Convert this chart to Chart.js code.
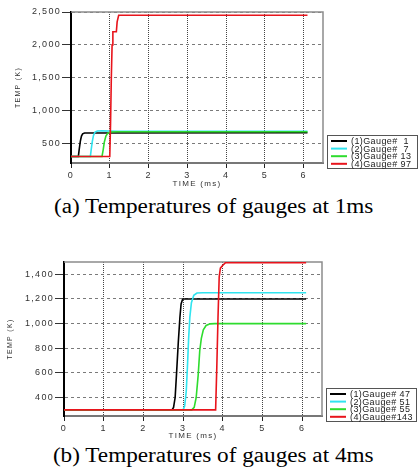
<!DOCTYPE html>
<html><head><meta charset="utf-8">
<script src="https://cdn.jsdelivr.net/npm/chart.js@4"></script>
<style>
html,body{margin:0;padding:0;background:#fff;}
body{width:419px;height:474px;position:relative;overflow:hidden;}
.box{position:absolute;left:0;width:419px;}
.cap{position:absolute;left:4px;width:419px;text-align:center;font-family:"Liberation Serif","Times New Roman",serif;font-size:20px;line-height:20px;color:#000;white-space:nowrap;}
.cap span{display:inline-block;transform:scaleX(1.16);}
</style></head><body>
<div class="box" style="top:0;height:190px"><canvas id="chartA" width="419" height="190"></canvas></div>
<div class="cap" style="top:196px"><span>(a) Temperatures of gauges at 1ms</span></div>
<div class="box" style="top:235px;height:207px"><canvas id="chartB" width="419" height="207"></canvas></div>
<div class="cap" style="top:445px"><span>(b) Temperatures of gauges at 4ms</span></div>
<script>
// ---- tick labels ----
const xTicks = [0, 1, 2, 3, 4, 5, 6];
const yTicksA = [500, 1000, 1500, 2000, 2500];
const yTicksB = [400, 600, 800, 1000, 1200, 1400];

// ---- series names ----
const labelsA = ['(1)Gauge#  1', '(2)Gauge#  7', '(3)Gauge# 13', '(4)Gauge# 97'];
const labelsB = ['(1)Gauge# 47', '(2)Gauge# 51', '(3)Gauge# 55', '(4)Gauge#143'];

// ---- (a) gauges at 1 ms : time (ms) / temperature (K) ----
const a1Time = [0, 0.19, 0.21, 0.24, 0.27, 0.30, 0.35, 6.1];
const a1Temp = [300, 300, 400, 530, 610, 645, 658, 660];
const a2Time = [0, 0.50, 0.52, 0.55, 0.58, 0.62, 0.68, 0.80, 1.2, 6.1];
const a2Temp = [300, 300, 400, 530, 620, 670, 688, 690, 684, 683];
const a3Time = [0, 0.80, 0.83, 0.86, 0.90, 0.95, 1.02, 1.2, 6.1];
const a3Temp = [300, 300, 400, 520, 610, 655, 672, 676, 676];
const a4Time = [0, 1.00, 1.02, 1.04, 1.06, 1.08, 1.17, 1.19, 1.23, 6.1];
const a4Temp = [300, 300, 800, 1500, 2000, 2200, 2200, 2350, 2450, 2450];

// ---- (b) gauges at 4 ms ----
const b1Time = [0, 2.72, 2.76, 2.80, 2.84, 2.88, 2.92, 2.95, 2.99, 6.1];
const b1Temp = [300, 300, 320, 400, 620, 850, 1050, 1160, 1200, 1200];
const b2Time = [0, 3.00, 3.04, 3.08, 3.11, 3.14, 3.17, 3.21, 3.27, 3.35, 3.5, 6.1];
const b2Temp = [300, 300, 330, 450, 650, 880, 1050, 1170, 1230, 1248, 1250, 1250];
const b3Time = [0, 3.22, 3.28, 3.33, 3.38, 3.42, 3.46, 3.51, 3.58, 3.68, 3.8, 6.1];
const b3Temp = [300, 300, 320, 400, 580, 780, 880, 950, 985, 998, 1000, 1000];
const b4Time = [0, 3.82, 3.85, 3.88, 3.91, 3.94, 3.99, 4.07, 6.1];
const b4Temp = [300, 300, 650, 1050, 1380, 1450, 1470, 1495, 1495];

const colors = ['#000000', '#30e4ef', '#2edc2e', '#e8141c'];
const FONT = '"Liberation Sans", Arial, sans-serif';

function series(t, v) { return t.map((x, i) => ({ x: x, y: v[i] })); }

const framePlugin = {
  id: 'frame',
  beforeDraw(chart) { chart.ctx.letterSpacing = '1.3px'; },
  beforeDatasetsDraw(chart) {
    const { left, top, right, bottom } = chart.chartArea;
    const ctx = chart.ctx;
    ctx.save();
    ctx.strokeStyle = '#8c8c8c';
    ctx.lineWidth = 1.5;
    ctx.beginPath();
    ctx.moveTo(left, top); ctx.lineTo(right, top); ctx.lineTo(right, bottom);
    ctx.stroke();
    ctx.restore();
  },
  afterDraw(chart) {
    const ca = chart.chartArea, ctx = chart.ctx;
    const w = 91, h = 34;
    const x = Math.round(ca.right + 4), y = Math.round(ca.bottom + 6 - h);
    ctx.save();
    ctx.letterSpacing = '0.4px';
    ctx.fillStyle = '#fff';
    ctx.fillRect(x, y, w, h);
    ctx.strokeStyle = '#555';
    ctx.lineWidth = 1;
    ctx.strokeRect(x + 0.5, y + 0.5, w - 1, h - 1);
    ctx.font = '9px ' + FONT;
    ctx.textBaseline = 'middle';
    ctx.textAlign = 'left';
    chart.data.datasets.forEach((ds, i) => {
      const ry = y + 6 + i * 7.6;
      ctx.strokeStyle = ds.borderColor;
      ctx.lineWidth = 2;
      ctx.beginPath(); ctx.moveTo(x + 4, ry); ctx.lineTo(x + 20, ry); ctx.stroke();
      ctx.fillStyle = '#222';
      ctx.fillText(ds.label, x + 24, ry + 0.5);
    });
    ctx.restore();
  }
};

function makeChart(id, g) {
  const datasets = g.series.map((s, i) => ({
    label: g.labels[i],
    data: series(s[0], s[1]),
    borderColor: colors[i],
    backgroundColor: colors[i],
    borderWidth: 1.6,
    fill: false,
    pointRadius: 0,
    tension: 0,
    order: 3 - i
  }));
  return new Chart(document.getElementById(id), {
    type: 'line',
    data: { datasets: datasets },
    plugins: [framePlugin],
    options: {
      responsive: false,
      animation: false,
      devicePixelRatio: 1,
      events: [],
      layout: { padding: { top: g.padTop, right: g.padRight, left: 0, bottom: 0 } },
      plugins: { legend: { display: false }, tooltip: { enabled: false } },
      scales: {
        x: {
          type: 'linear', min: 0, max: 6.5,
          afterBuildTicks: s => { s.ticks = xTicks.map(v => ({ value: v })); },
          afterFit: s => { s.height = g.xAxisH; },
          grid: { color: '#444', lineWidth: 1, tickLength: 5, tickColor: '#222' },
          border: { display: true, color: '#777', width: 2, dash: [1, 1] },
          ticks: { color: '#333', padding: 2, maxRotation: 0, autoSkip: false, font: { family: FONT, size: 9 } },
          title: { display: true, text: 'TIME (ms)', color: '#333', font: { family: FONT, size: 8 }, padding: { top: 0, bottom: 1 } }
        },
        y: {
          type: 'linear', min: g.yMin, max: g.yMax,
          afterBuildTicks: s => { s.ticks = g.yTicks.map(v => ({ value: v })); },
          afterFit: s => { s.width = g.yAxisW; },
          grid: { color: '#7a7a7a', lineWidth: 1, tickLength: 9, tickColor: '#333' },
          border: { display: true, color: '#000', width: 2, dash: [3, 3] },
          ticks: { color: '#333', padding: 1, font: { family: FONT, size: 9 }, callback: v => v.toLocaleString('en-US') },
          title: { display: true, text: 'TEMP (K)', color: '#333', font: { family: FONT, size: 7 }, padding: { top: g.yTitlePad, bottom: 0 } }
        }
      }
    }
  });
}

makeChart('chartA', {
  labels: labelsA,
  series: [[a1Time, a1Temp], [a2Time, a2Temp], [a3Time, a3Temp], [a4Time, a4Temp]],
  yMin: 200, yMax: 2500, yTicks: yTicksA,
  padTop: 12, padRight: 96, yAxisW: 71, xAxisH: 27, yTitlePad: 14
});
makeChart('chartB', {
  labels: labelsB,
  series: [[b1Time, b1Temp], [b2Time, b2Temp], [b3Time, b3Temp], [b4Time, b4Temp]],
  yMin: 250, yMax: 1500, yTicks: yTicksB,
  padTop: 27, padRight: 97, yAxisW: 64, xAxisH: 26, yTitlePad: 6
});
</script>
</body></html>
